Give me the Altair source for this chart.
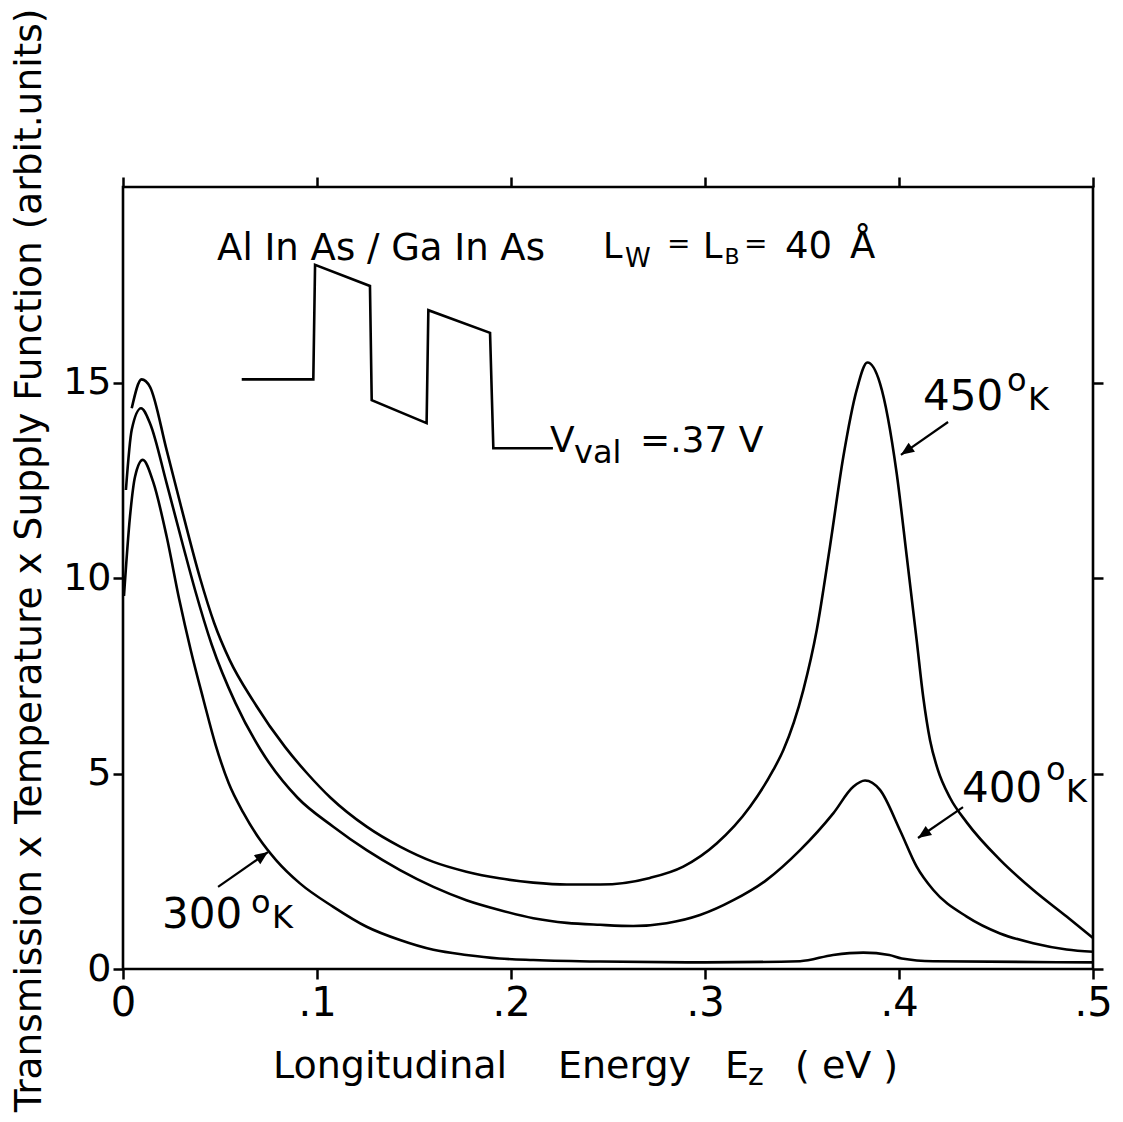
import altair as alt
import pandas as pd

FONT = "DejaVu Sans"

# ---- curve data (E in eV, signal in arbitrary units) ----
E_450 = [0.0045, 0.0096, 0.0139, 0.0225, 0.0311, 0.0397, 0.0470, 0.0550, 0.0672, 0.0835,
         0.095, 0.107, 0.1256, 0.1428, 0.160, 0.177, 0.194, 0.2115, 0.2287, 0.2459,
         0.2716, 0.2888, 0.306, 0.3232, 0.3352, 0.3404, 0.3507, 0.3576, 0.3644, 0.3713,
         0.3782, 0.3837, 0.3902, 0.3988, 0.404, 0.4091, 0.4125, 0.4160, 0.4200, 0.4263,
         0.4349, 0.4521, 0.4692, 0.4864, 0.5]
S_450 = [14.34, 15.08, 14.89, 13.27, 11.60, 10.0, 8.85, 7.90, 6.85, 5.68,
         5.0, 4.38, 3.64, 3.13, 2.74, 2.49, 2.32, 2.21, 2.16, 2.16,
         2.33, 2.62, 3.21, 4.15, 5.09, 5.60, 7.14, 8.67, 10.80, 13.10,
         14.81, 15.51, 14.98, 12.68, 10.55, 8.41, 6.95, 5.85, 5.10, 4.38,
         3.75, 2.79, 2.02, 1.34, 0.79]

E_400 = [0.0015, 0.0045, 0.0093, 0.0139, 0.0225, 0.0311, 0.0371, 0.0457, 0.0580, 0.0710,
         0.0900, 0.1084, 0.1256, 0.1428, 0.160, 0.177, 0.194, 0.2115, 0.2287, 0.2459,
         0.263, 0.2802, 0.2974, 0.3146, 0.3318, 0.349, 0.3661, 0.3764, 0.3825, 0.3902,
         0.4005, 0.4091, 0.4177, 0.4349, 0.4521, 0.4692, 0.4864, 0.5]
S_400 = [12.25, 13.79, 14.34, 13.96, 12.42, 10.80, 9.70, 8.30, 6.80, 5.60,
         4.38, 3.64, 3.04, 2.53, 2.10, 1.76, 1.51, 1.30, 1.18, 1.13,
         1.10, 1.17, 1.38, 1.76, 2.28, 3.04, 3.98, 4.66, 4.82, 4.58,
         3.55, 2.62, 2.02, 1.34, 0.91, 0.66, 0.50, 0.44]

E_300 = [0.0005, 0.0036, 0.0062, 0.0102, 0.0156, 0.0225, 0.0290, 0.0349, 0.0414, 0.0478,
         0.0545, 0.0620, 0.0700, 0.0790, 0.0912, 0.1084, 0.1256, 0.1428, 0.160, 0.177,
         0.194, 0.2115, 0.2459, 0.30, 0.349, 0.366, 0.3816, 0.395, 0.4014, 0.4177, 0.5]
S_300 = [9.54, 11.57, 12.59, 13.02, 12.45, 11.06, 9.45, 8.16, 6.90, 5.72,
         4.75, 4.00, 3.35, 2.78, 2.19, 1.59, 1.08, 0.74, 0.49, 0.36,
         0.27, 0.23, 0.19, 0.17, 0.20, 0.36, 0.42, 0.36, 0.27, 0.20, 0.17]

# ---- inset: potential profile sketch ----
INSET_E = [0.0612, 0.0981, 0.0990, 0.1273, 0.1282, 0.1565, 0.1574, 0.1892, 0.1909, 0.2216]
INSET_S = [15.08, 15.08, 18.01, 17.47, 14.55, 13.96, 16.85, 16.27, 13.32, 13.32]

# ---- annotation texts ----
ANN_TEXT = ["Al In As / Ga In As",
            "L", "W", "=", "L", "B", "=", "40", "Å",
            "V", "val", "=.37 V",
            "450", "o", "K", "400", "o", "K", "300", "o", "K",
            "Longitudinal", "Energy", "E", "z", "( eV )"]
ANN_E = [0.0485,
         0.2474, 0.2587, 0.2804, 0.2990, 0.3100, 0.3201, 0.3412, 0.3747,
         0.2201, 0.2325, 0.2665,
         0.4124, 0.4557, 0.4665, 0.4325, 0.4758, 0.4861, 0.0201, 0.066, 0.0768,
         0.0773, 0.2242, 0.3103, 0.3222, 0.3464]
ANN_S = [18.13,
         18.18, 17.95, 18.30, 18.18, 18.03, 18.30, 18.18, 18.18,
         13.22, 12.94, 13.22,
         14.30, 14.78, 14.30, 4.27, 4.83, 4.27, 1.05, 1.43, 1.05,
         -2.79, -2.79, -2.79, -2.97, -2.79]
ANN_SIZE = [37,
            35, 26, 28, 35, 22, 28, 37, 37,
            36, 32, 36,
            42, 32, 32, 42, 32, 32, 42, 32, 32,
            38, 38, 38, 30, 38]

# ---- arrows ----
ARROW_TAIL_E = [0.4253, 0.4330, 0.0490]
ARROW_TAIL_S = [13.99, 4.14, 2.10]
ARROW_HEAD_E = [0.4010, 0.4098, 0.0747]
ARROW_HEAD_S = [13.15, 3.35, 2.99]
ARROW_ANGLE = [235, 235, 55]

Y_TITLE = "Transmission x Temperature x Supply Function (arbit.units)"

X_TICKS = [0, 0.1, 0.2, 0.3, 0.4, 0.5]
Y_TICKS = [0, 5, 10, 15]

# ---- build tables ----
curves = pd.concat([
    pd.DataFrame({"E": E_450, "S": S_450, "T": "450"}),
    pd.DataFrame({"E": E_400, "S": S_400, "T": "400"}),
    pd.DataFrame({"E": E_300, "S": S_300, "T": "300"}),
])
inset = pd.DataFrame({"E": INSET_E, "S": INSET_S, "i": list(range(len(INSET_E)))})
ann = pd.DataFrame({"t": ANN_TEXT, "E": ANN_E, "S": ANN_S, "fs": ANN_SIZE})
shafts = pd.DataFrame({
    "E": ARROW_TAIL_E + ARROW_HEAD_E,
    "S": ARROW_TAIL_S + ARROW_HEAD_S,
    "k": [0, 1, 2, 0, 1, 2],
    "o": [0, 0, 0, 1, 1, 1],
})
heads = pd.DataFrame({"E": ARROW_HEAD_E, "S": ARROW_HEAD_S, "ang": ARROW_ANGLE})
ytitle = pd.DataFrame({"E": [-0.0479], "S": [10.45], "t": [Y_TITLE]})

xs = alt.Scale(domain=[0, 0.5], nice=False, zero=False)
ys = alt.Scale(domain=[0, 20], nice=False, zero=False)

bottom_axis = alt.Axis(values=X_TICKS, orient="bottom", title=None,
                       labelExpr="datum.value == 0 ? '0' : '.' + round(datum.value * 10)",
                       labelFontSize=40, labelPadding=4, labelFlush=False,
                       labelOverlap=False, tickSize=10)
left_axis = alt.Axis(values=Y_TICKS, orient="left", title=None, labelFontSize=38,
                     labelPadding=2, tickSize=10, labelFlush=False)
top_axis = alt.Axis(values=X_TICKS, orient="top", title=None, labels=False, tickSize=10)
right_axis = alt.Axis(values=Y_TICKS, orient="right", title=None, labels=False, tickSize=10)

lines = alt.Chart(curves).mark_line(interpolate="monotone", color="black", strokeWidth=2.6).encode(
    x=alt.X("E:Q", scale=xs, axis=bottom_axis),
    y=alt.Y("S:Q", scale=ys, axis=left_axis),
    detail="T:N",
)

inset_line = alt.Chart(inset).mark_line(color="black", strokeWidth=2.6).encode(
    x=alt.X("E:Q", scale=xs, axis=top_axis),
    y=alt.Y("S:Q", scale=ys, axis=right_axis),
    order="i:Q",
)

shaft_line = alt.Chart(shafts).mark_line(color="black", strokeWidth=2.2).encode(
    x=alt.X("E:Q", scale=xs, axis=None),
    y=alt.Y("S:Q", scale=ys, axis=None),
    detail="k:N",
    order="o:Q",
)

head_pts = alt.Chart(heads).mark_point(
    shape="M0,0 L0.42,1 L-0.42,1 Z", filled=True, color="black", size=700, opacity=1
).encode(
    x=alt.X("E:Q", scale=xs, axis=None),
    y=alt.Y("S:Q", scale=ys, axis=None),
    angle=alt.Angle("ang:Q", scale=None),
)

texts = alt.Chart(ann).mark_text(align="left", baseline="alphabetic", font=FONT, color="black").encode(
    x=alt.X("E:Q", scale=xs, axis=None),
    y=alt.Y("S:Q", scale=ys, axis=None),
    text="t:N",
    size=alt.Size("fs:Q", scale=None),
)

ytext = alt.Chart(ytitle).mark_text(angle=270, align="center", baseline="middle", font=FONT,
                                    fontSize=37.5, color="black").encode(
    x=alt.X("E:Q", scale=xs, axis=None),
    y=alt.Y("S:Q", scale=ys, axis=None),
    text="t:N",
)

chart = alt.layer(lines, inset_line, shaft_line, head_pts, texts, ytext).resolve_axis(
    x="independent", y="independent"
).properties(
    width=970, height=782,
    autosize=alt.AutoSizeParams(type="none"),
    padding={"left": 123, "top": 187, "right": 30, "bottom": 153},
    background="white",
).configure_axis(
    domain=False, grid=False, tickColor="black", tickWidth=2.5,
    labelColor="black", labelFont=FONT,
).configure_view(stroke="black", strokeWidth=2.6)

chart.save("out.html", embed_options={"renderer": "svg", "actions": False})
